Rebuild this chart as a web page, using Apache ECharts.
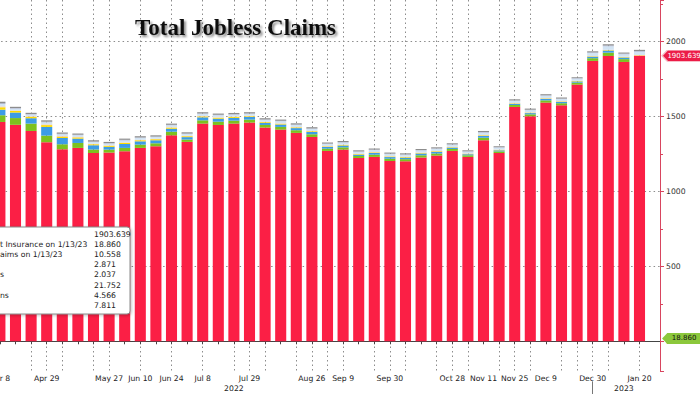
<!DOCTYPE html>
<html><head><meta charset="utf-8">
<script src="https://cdn.jsdelivr.net/npm/echarts@6/dist/echarts.min.js"></script>
<style>html,body{margin:0;padding:0;background:#fff}#c{width:700px;height:394px}</style>
</head><body><div id="c"></div>
<script>
// ---- data ----
const WEEKS = ['Apr 8','Apr 15','Apr 22','Apr 29','May 6','May 13','May 20','May 27','Jun 3','Jun 10',
  'Jun 17','Jun 24','Jul 1','Jul 8','Jul 15','Jul 22','Jul 29','Aug 5','Aug 12','Aug 19',
  'Aug 26','Sep 2','Sep 9','Sep 16','Sep 23','Sep 30','Oct 7','Oct 14','Oct 21','Oct 28',
  'Nov 4','Nov 11','Nov 18','Nov 25','Dec 2','Dec 9','Dec 16','Dec 23','Dec 30','Jan 6',
  'Jan 13','Jan 20'];
const LABELED_WEEKS = ['Apr 8','Apr 29','May 27','Jun 10','Jun 24','Jul 8','Jul 29','Aug 26','Sep 9',
  'Sep 30','Oct 28','Nov 11','Nov 25','Dec 9','Dec 30','Jan 20'];
const GRID_WEEKS = ['Apr 22','Apr 29','May 6','May 20','May 27','Jun 10','Jun 24','Jul 8','Jul 22',
  'Jul 29','Aug 5','Aug 19','Aug 26','Sep 2','Sep 9','Sep 23','Sep 30','Oct 7','Oct 21','Oct 28',
  'Nov 4','Nov 18','Nov 25','Dec 2','Dec 16','Dec 23','Dec 30','Jan 6','Jan 20'];
const YEAR_LABELS = {'Jul 22': '2022', 'Jan 13': '2023'};
const YEAR_BREAK = 'Dec 30';
const Y_TICKS = [500, 1000, 1500, 2000];

const S1 = [1462,1443,1402,1327,1280,1289,1255,1258,1267,1289,
  1300,1373,1329,1451,1442,1451,1458,1425,1411,1389,
  1362,1269,1278,1222,1229,1202,1200,1225,1238,1269,
  1229,1340,1255,1562,1500,1591,1573,1711,1869,1902,
  1862,1903.639];
const S2 = [45,45,49,44,33,33,24,20,22,22,
  20,24,16,22,22,20,20,17,18,18,
  18,15,15,13,15,15,14,15,14,13,
  11,17,11,13,13,15,14,13,18,22,
  18.86,null];
const S3 = [37,37,36,58,42,29,27,18,26,22,
  20,20,16,20,20,18,17,14,16,14,
  15,11,12,9,11,11,10,12,11,9,
  7,12,7,8,8,10,9,8,10,14,
  10.558,null];
const S4 = [16,10,9,12,9,8,8,7,8,7,
  7,7,6,6,6,6,5,5,5,5,
  5,4,4,4,4,4,4,4,4,3,
  3,4,3,3,3,3,3,3,3,3,
  3.0,2.871];
const S5 = [6,4,4,5,4,3,3,3,3,3,
  3,3,3,3,3,3,3,2,3,2,
  2,2,2,2,2,2,2,2,2,2,
  2,2,2,2,2,2,2,2,2,2,
  2.1,2.037];
const S6 = [16,12,12,14,12,12,12,12,13,13,
  12,13,12,14,14,13,13,13,14,14,
  14,14,14,13,14,14,13,14,14,14,
  12,16,13,15,15,16,14,14,20,24,
  17,21.752];
const S7 = [5,4,3,4,3,3,3,3,4,3,
  3,3,3,3,3,3,3,3,3,3,
  3,3,3,3,3,3,3,3,3,3,
  3,4,3,3,3,3,3,3,4,5,
  4.2,4.566];
const S8 = [10,8,8,9,8,8,8,8,8,8,
  8,8,8,8,8,8,8,8,8,8,
  8,7,7,7,7,7,7,7,7,7,
  6,7,6,7,7,7,7,6,7,8,
  7,7.811];
const LEGEND_TEXT = ['', 't Insurance on 1/13/23', 'aims on 1/13/23', '', 's', '', 'ns', ''];

// ---- styles ----
const SERIES = [S1,S2,S3,S4,S5,S6,S7,S8];
const COLORS = ['#fb1f45','#7dc11f','#3c9ce6','#fedc00','#f3c9a8','#d2e4f4','#a9b0cc','#8d8d8d'];
const FONT = 'DejaVu Sans';
const FS = 7.7;
const DOT = {color:'#8c8c8c', type:[1.5,3], width:1};
const cats = WEEKS.concat(['']);
const lastVal = a => { for (let i=a.length-1;i>=0;i--) if (a[i]!=null) return a[i]; return null; };
const tagPath = 'path://M0,6 L6,0 L46,0 L46,12 L6,12 Z';

function tag(value, fill, textColor, stroke) {
  return {
    symbol: tagPath, symbolSize: [40, 11], symbolKeepAspect: false,
    symbolOffset: [27, 0],
    itemStyle: {color: fill, borderColor: stroke || fill, borderWidth: stroke ? 1 : 0},
    label: {show: true, position: 'inside', offset: [2, 0], color: textColor, fontSize: 7,
      fontFamily: FONT, formatter: () => value.toFixed(3)},
    data: [{coord: [WEEKS.length, value], value: value}]
  };
}

const series = SERIES.map((d, k) => {
  const s = {
    name: 's' + (k+1), type: 'bar', stack: 'total', data: d,
    barCategoryGap: '29%', itemStyle: {color: COLORS[k]}, z: 2
  };
  if (k === 0) s.markPoint = tag(lastVal(S1), '#ec1c47', '#ffffff', '#f6b9c5');
  if (k === 1) s.markPoint = tag(lastVal(S2), '#8cc83c', '#111111', null);
  return s;
});

// legend box (cropped at the left edge like the reference)
const rowY0 = 234, rowH = 10.2;
const graphicEls = [{type:'rect', z: 100, shape:{x:-20, y:227, width:150, height:87, r:3},
  style:{fill:'#ffffff', stroke:'#8a8a8a', lineWidth:1, shadowBlur:3, shadowColor:'rgba(0,0,0,0.25)', shadowOffsetX:1, shadowOffsetY:1}}];
SERIES.forEach((d, k) => {
  graphicEls.push({type:'text', z: 101, x: 0, y: rowY0 + k*rowH,
    style:{text: LEGEND_TEXT[k], fill:'#222', fontSize: FS, fontFamily: FONT, verticalAlign:'middle'}});
  graphicEls.push({type:'text', z: 101, x: 94, y: rowY0 + k*rowH,
    style:{text: lastVal(d).toFixed(3), fill:'#222', fontSize: FS, fontFamily: FONT, verticalAlign:'middle'}});
});

const option = {
  animation: false,
  backgroundColor: '#ffffff',
  textStyle: {fontFamily: FONT},
  title: {text: 'Total Jobless Claims', left: 130, top: 11,
    textStyle: {fontFamily: 'Liberation Serif', fontWeight: 'bold', fontSize: 23, color: '#111',
      textShadowColor: 'rgba(0,0,0,0.45)', textShadowBlur: 2, textShadowOffsetX: 2, textShadowOffsetY: 2}},
  grid: {left: -7.9, right: 37.1, top: 0, bottom: 22.7, outerBoundsMode: 'none', containLabel: false},
  xAxis: [{
    type: 'category', data: cats, boundaryGap: true,
    axisLine: {lineStyle: {color: '#444'}},
    axisTick: {show: true, alignWithLabel: true, length: 3, interval: (i) => i < WEEKS.length, lineStyle: {color: '#444'}},
    axisLabel: {interval: (i, v) => LABELED_WEEKS.includes(v), margin: 3, fontSize: FS, color: '#222', fontFamily: FONT},
    splitLine: {show: true, alignWithLabel: true, interval: (i, v) => GRID_WEEKS.includes(v), lineStyle: DOT}
  }, {
    type: 'category', data: cats, boundaryGap: true, position: 'bottom', offset: 10,
    axisLine: {show: false},
    axisTick: {show: true, alignWithLabel: true, length: 16, interval: (i, v) => v === YEAR_BREAK, lineStyle: {color: '#777'}},
    axisLabel: {interval: (i, v) => v in YEAR_LABELS, formatter: v => YEAR_LABELS[v] || '', margin: 3,
      fontSize: FS, color: '#222', fontFamily: FONT},
    splitLine: {show: false}
  }],
  yAxis: {
    type: 'value', position: 'right', offset: -2.9, min: -200, max: 2275,
    minInterval: Y_TICKS[1]-Y_TICKS[0], maxInterval: Y_TICKS[1]-Y_TICKS[0], splitNumber: 5,
    axisLine: {show: true, lineStyle: {color: '#d8455f'}},
    axisTick: {show: true, length: 4, lineStyle: {color: '#d8455f'}},
    minorTick: {show: true, splitNumber: 2, length: 3, lineStyle: {color: '#d8455f'}},
    axisLabel: {margin: 6, fontSize: FS, color: '#333', fontFamily: FONT, showMinLabel: false, showMaxLabel: false,
      formatter: v => String(v)},
    splitLine: {show: true, showMinLine: false, showMaxLine: false, lineStyle: DOT}
  },
  graphic: graphicEls,
  series: series
};

const chart = echarts.init(document.getElementById('c'), null, {renderer: 'svg', width: 700, height: 394});
chart.setOption(option);
</script></body></html>
